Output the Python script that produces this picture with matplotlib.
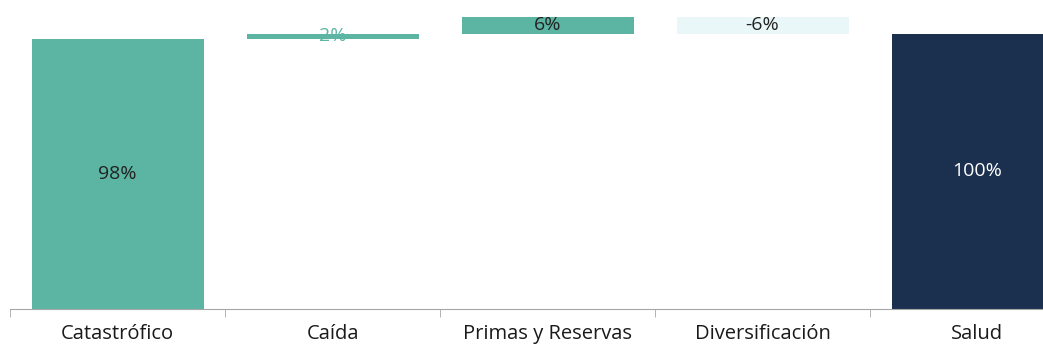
import matplotlib.pyplot as plt
import numpy as np

plt.rcParams['font.family'] = ['Open Sans', 'DejaVu Sans']

categories = ["Catastrófico", "Caída", "Primas y Reservas", "Diversificación", "Salud"]
values = [98, 2, 6, -6, 100]
labels = ["98%", "2%", "6%", "-6%", "100%"]
kinds = ["total", "delta", "delta", "delta", "total"]

colors = ["#5bb5a2", "#5bb5a2", "#5bb5a2", "#e9f7f8", "#1b2f4e"]
text_colors = ["#222222", "#5bb5a2", "#222222", "#222222", "#ffffff"]

# waterfall bottoms
bottoms = []
running = 0
for v, k in zip(values, kinds):
    if k == "total":
        bottoms.append(0)
        running = v
    else:
        bottoms.append(running if v >= 0 else running + v)
        running += v
heights = [abs(v) for v in values]

fig = plt.figure(figsize=(10.43, 3.49), dpi=100)
ax = fig.add_axes([10/1043, 40/349, 1075/1043, 303/349])

x = np.arange(len(categories))
ax.bar(x, heights, bottom=bottoms, width=0.8, color=colors)

for i in range(len(categories)):
    ax.text(x[i], bottoms[i] + heights[i] / 2, labels[i], ha="center", va="center",
            fontsize=14, color=text_colors[i])

ax.set_xlim(-0.5, len(categories) - 0.5)
ax.set_ylim(0, 110)
ax.set_yticks([])
for s in ["top", "right", "left"]:
    ax.spines[s].set_visible(False)
ax.spines["bottom"].set_color("#a6a6a6")

ax.set_xticks(x)
ax.set_xticklabels(categories, fontsize=14.5, color="#1a1a1a")
ax.tick_params(axis="x", length=0, pad=11)
ax.set_xticks(np.arange(len(categories) + 1) - 0.5, minor=True)
ax.tick_params(axis="x", which="minor", length=6, color="#a6a6a6")

fig.savefig("out.png", dpi=100)
